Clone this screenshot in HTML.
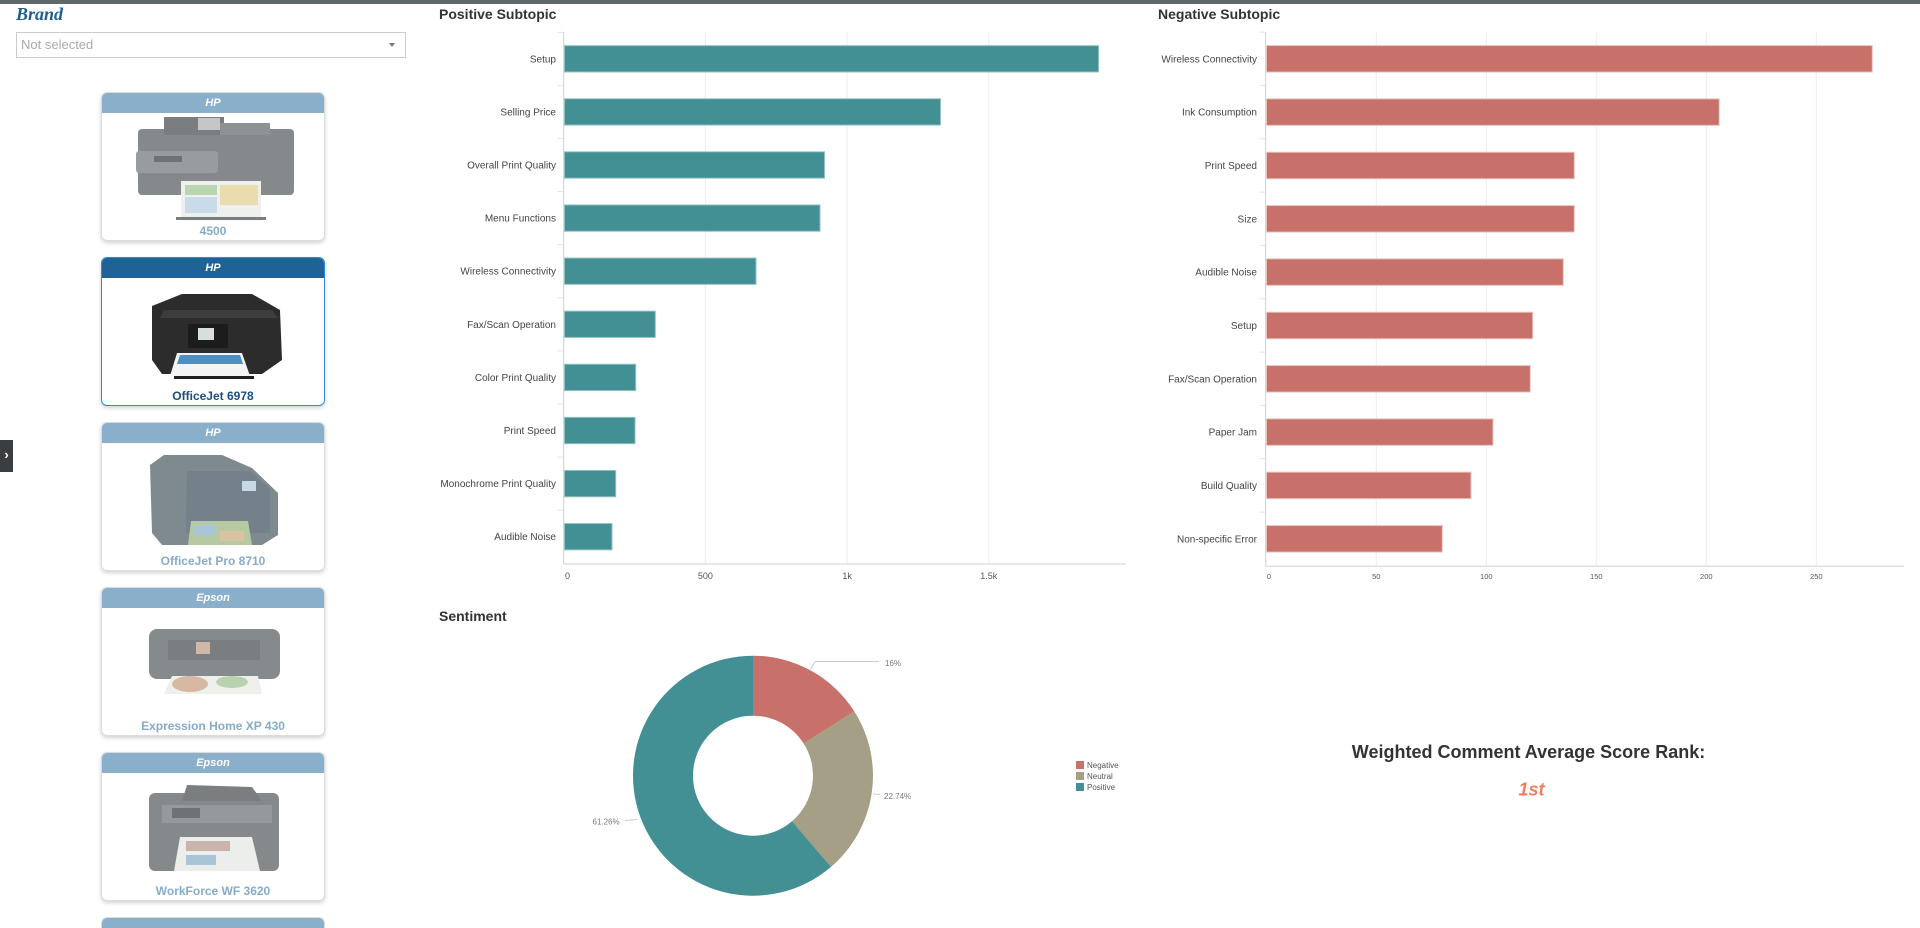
<!DOCTYPE html>
<html><head><meta charset="utf-8"><style>
html,body{margin:0;padding:0;background:#fff;width:1920px;height:928px;overflow:hidden;font-family:"Liberation Sans",Arial,sans-serif;}
#root{position:relative;width:1920px;height:928px;overflow:hidden;background:#fff;}
.abs{position:absolute;}
.card{position:absolute;left:101px;width:222px;height:147px;border:1px solid #dcdcdc;border-radius:6px;background:#fff;box-shadow:0 2px 4px rgba(0,0,0,0.18);overflow:hidden;}
.card .hd{position:absolute;left:0;top:0;right:0;height:20px;background:#8aafcb;color:#fff;font-weight:bold;font-style:italic;font-size:11px;text-align:center;line-height:20px;}
.card .nm{position:absolute;left:0;right:0;top:131px;text-align:center;font-weight:bold;font-size:12px;color:#86abc9;line-height:14px;}
.card svg{position:absolute;left:0;top:0;}
.sel{border:1.5px solid #2f8be0;}
.sel .hd{background:#1f6298;}
.sel .nm{color:#1b4e7e;}
.last{height:10px;border-bottom:none;border-radius:6px 6px 0 0;box-shadow:none;}
.last .hd{height:10px;}
</style></head><body>
<div id="root">
<div class="abs" style="left:0;top:0;width:1920px;height:4px;background:#5e6868;"></div>
<div class="abs" style="left:16px;top:4px;font-family:'Liberation Serif',serif;font-weight:bold;font-style:italic;font-size:18px;line-height:20px;color:#1e5d94;">Brand</div>
<div class="abs" style="left:16px;top:32px;width:388px;height:24px;border:1px solid #cccccc;background:#fff;"></div>
<div class="abs" style="left:21px;top:37px;font-size:13px;line-height:15px;color:#aaaaaa;">Not selected</div>
<div class="abs" style="left:389px;top:43px;width:0;height:0;border-left:3.5px solid transparent;border-right:3.5px solid transparent;border-top:4px solid #777;"></div>
<div class="abs" style="left:0;top:440px;width:13px;height:32px;background:#3b3e40;color:#fff;font-weight:bold;font-size:13px;line-height:30px;text-align:center;">&#8250;</div>

<div class="card" style="top:92px;">
<svg width="224" height="149">
<rect x="36" y="36" width="156" height="66" rx="4" fill="#86898b"/>
<rect x="62" y="24" width="60" height="18" fill="#7b7e80"/>
<rect x="96" y="25" width="22" height="12" fill="#c4c6c7"/>
<rect x="118" y="30" width="50" height="12" fill="#8f9294"/>
<rect x="34" y="58" width="82" height="22" rx="3" fill="#999c9e"/>
<rect x="52" y="63" width="28" height="6" fill="#6f7274"/>
<rect x="79" y="88" width="80" height="38" fill="#eef0ee"/>
<rect x="83" y="92" width="32" height="10" fill="#b9d6b0"/>
<rect x="118" y="92" width="38" height="20" fill="#e9ddb0"/>
<rect x="83" y="104" width="32" height="16" fill="#c9dbe8"/>
<rect x="74" y="124" width="90" height="3" fill="#7a7d7f"/>
</svg>
<div class="hd">HP</div><div class="nm">4500</div></div>

<div class="card sel" style="top:257px;">
<svg width="224" height="149">
<path d="M50 48 L80 36 L150 36 L178 52 L180 102 L160 116 L60 116 L50 102 Z" fill="#2c2c2c"/>
<path d="M62 52 L170 52 L176 60 L58 60 Z" fill="#3d3d3d"/>
<rect x="86" y="66" width="40" height="24" fill="#1c1c1c"/>
<rect x="96" y="70" width="16" height="12" fill="#d8dde0"/>
<path d="M75 95 L140 95 L148 118 L68 118 Z" fill="#f2f4f5"/>
<path d="M78 97 L138 97 L141 106 L75 106 Z" fill="#4d8fc0"/>
<rect x="72" y="118" width="80" height="3" fill="#1f1f1f"/>
</svg>
<div class="hd">HP</div><div class="nm">OfficeJet 6978</div></div>

<div class="card" style="top:422px;">
<svg width="224" height="149">
<path d="M48 42 L62 32 L120 32 L150 45 L176 70 L176 112 L160 122 L60 122 L50 110 Z" fill="#7e8a8e"/>
<path d="M85 48 L148 48 L168 66 L168 110 L84 110 Z" fill="#74808a"/>
<rect x="140" y="58" width="14" height="10" fill="#c8d8e4"/>
<path d="M89 98 L146 98 L150 122 L86 122 Z" fill="#b7c9a2"/>
<rect x="92" y="102" width="22" height="10" fill="#a9c6d8"/>
<rect x="118" y="108" width="24" height="10" fill="#d8c2a0"/>
</svg>
<div class="hd">HP</div><div class="nm">OfficeJet Pro 8710</div></div>

<div class="card" style="top:587px;">
<svg width="224" height="149">
<rect x="47" y="41" width="131" height="50" rx="8" fill="#858a8c"/>
<rect x="66" y="52" width="92" height="20" fill="#7a7e80"/>
<rect x="94" y="54" width="14" height="12" fill="#d0b8a8"/>
<path d="M70 88 L156 88 L160 106 L62 106 Z" fill="#eef0ec"/>
<ellipse cx="88" cy="96" rx="18" ry="8" fill="#d7b8a2"/>
<ellipse cx="130" cy="94" rx="16" ry="6" fill="#b9d2ad"/>
</svg>
<div class="hd">Epson</div><div class="nm">Expression Home XP 430</div></div>

<div class="card" style="top:752px;">
<svg width="224" height="149">
<rect x="47" y="40" width="130" height="78" rx="6" fill="#85898b"/>
<path d="M85 32 L150 34 L160 48 L80 48 Z" fill="#7a7e80"/>
<rect x="60" y="52" width="110" height="18" fill="#95999b"/>
<rect x="70" y="55" width="28" height="10" fill="#6f7274"/>
<path d="M78 84 L150 84 L158 118 L72 118 Z" fill="#eceeec"/>
<rect x="84" y="88" width="44" height="10" fill="#c9b3ab"/>
<rect x="84" y="102" width="30" height="10" fill="#a9c4d6"/>
</svg>
<div class="hd">Epson</div><div class="nm">WorkForce WF 3620</div></div>

<div class="card last" style="top:917px;"><div class="hd"></div></div>

<svg class="abs" style="left:0;top:0;" width="1920" height="928" xmlns="http://www.w3.org/2000/svg" font-family="Liberation Sans, Arial, sans-serif">
<!-- Positive Subtopic -->
<text x="439" y="19" font-size="14" font-weight="bold" fill="#333">Positive Subtopic</text>
<g stroke="#ececec" stroke-width="1">
<line x1="705.4" y1="32" x2="705.4" y2="564"/>
<line x1="847.1" y1="32" x2="847.1" y2="564"/>
<line x1="988.8" y1="32" x2="988.8" y2="564"/>
</g>
<g stroke="#e4e4e4" stroke-width="1">
<line x1="557.5" y1="32.3" x2="563.5" y2="32.3"/><line x1="557.5" y1="85.4" x2="563.5" y2="85.4"/>
<line x1="557.5" y1="138.5" x2="563.5" y2="138.5"/><line x1="557.5" y1="191.6" x2="563.5" y2="191.6"/>
<line x1="557.5" y1="244.7" x2="563.5" y2="244.7"/><line x1="557.5" y1="297.8" x2="563.5" y2="297.8"/>
<line x1="557.5" y1="350.9" x2="563.5" y2="350.9"/><line x1="557.5" y1="404" x2="563.5" y2="404"/>
<line x1="557.5" y1="457.1" x2="563.5" y2="457.1"/><line x1="557.5" y1="510.2" x2="563.5" y2="510.2"/>
</g>
<line x1="563.7" y1="32" x2="563.7" y2="564.5" stroke="#cfcfcf"/>
<line x1="563.5" y1="564" x2="1125.7" y2="564" stroke="#d0d0d0"/>
<g fill="#428f94" stroke="#93c1c3" stroke-width="1">
<rect x="564.5" y="45.65" width="534" height="26.3"/>
<rect x="564.5" y="98.75" width="376" height="26.3"/>
<rect x="564.5" y="151.85" width="260" height="26.3"/>
<rect x="564.5" y="204.95" width="255.5" height="26.3"/>
<rect x="564.5" y="258.05" width="191.5" height="26.3"/>
<rect x="564.5" y="311.15" width="90.8" height="26.3"/>
<rect x="564.5" y="364.25" width="71.2" height="26.3"/>
<rect x="564.5" y="417.35" width="70.5" height="26.3"/>
<rect x="564.5" y="470.45" width="51.2" height="26.3"/>
<rect x="564.5" y="523.55" width="47.5" height="26.3"/>
</g>
<g font-size="10" fill="#444" text-anchor="end">
<text x="556" y="62.3">Setup</text>
<text x="556" y="115.4">Selling Price</text>
<text x="556" y="168.5">Overall Print Quality</text>
<text x="556" y="221.6">Menu Functions</text>
<text x="556" y="274.7">Wireless Connectivity</text>
<text x="556" y="327.8">Fax/Scan Operation</text>
<text x="556" y="380.9">Color Print Quality</text>
<text x="556" y="434">Print Speed</text>
<text x="556" y="487.1">Monochrome Print Quality</text>
<text x="556" y="540.2">Audible Noise</text>
</g>
<g font-size="9" fill="#555" text-anchor="middle">
<text x="567.5" y="579.2">0</text>
<text x="705.4" y="579.2">500</text>
<text x="847.1" y="579.2">1k</text>
<text x="988.8" y="579.2">1.5k</text>
</g>

<!-- Negative Subtopic -->
<text x="1158" y="19" font-size="14" font-weight="bold" fill="#333">Negative Subtopic</text>
<g stroke="#ececec" stroke-width="1">
<line x1="1376.3" y1="32" x2="1376.3" y2="566"/>
<line x1="1486.3" y1="32" x2="1486.3" y2="566"/>
<line x1="1596.3" y1="32" x2="1596.3" y2="566"/>
<line x1="1706.3" y1="32" x2="1706.3" y2="566"/>
<line x1="1816.3" y1="32" x2="1816.3" y2="566"/>
</g>
<g stroke="#e4e4e4" stroke-width="1">
<line x1="1259.5" y1="32.1" x2="1265.5" y2="32.1"/><line x1="1259.5" y1="85.4" x2="1265.5" y2="85.4"/>
<line x1="1259.5" y1="138.8" x2="1265.5" y2="138.8"/><line x1="1259.5" y1="192.1" x2="1265.5" y2="192.1"/>
<line x1="1259.5" y1="245.4" x2="1265.5" y2="245.4"/><line x1="1259.5" y1="298.8" x2="1265.5" y2="298.8"/>
<line x1="1259.5" y1="352.1" x2="1265.5" y2="352.1"/><line x1="1259.5" y1="405.4" x2="1265.5" y2="405.4"/>
<line x1="1259.5" y1="458.7" x2="1265.5" y2="458.7"/><line x1="1259.5" y1="512.1" x2="1265.5" y2="512.1"/>
</g>
<line x1="1265.7" y1="32" x2="1265.7" y2="566.5" stroke="#cfcfcf"/>
<line x1="1265.5" y1="566.3" x2="1903.7" y2="566.3" stroke="#d0d0d0"/>
<g fill="#c8716a" stroke="#ecc3c0" stroke-width="1">
<rect x="1266.5" y="45.55" width="605.8" height="26.5"/>
<rect x="1266.5" y="98.85" width="452.7" height="26.5"/>
<rect x="1266.5" y="152.25" width="307.8" height="26.5"/>
<rect x="1266.5" y="205.55" width="307.8" height="26.5"/>
<rect x="1266.5" y="258.85" width="296.8" height="26.5"/>
<rect x="1266.5" y="312.25" width="266.2" height="26.5"/>
<rect x="1266.5" y="365.55" width="263.8" height="26.5"/>
<rect x="1266.5" y="418.85" width="226.5" height="26.5"/>
<rect x="1266.5" y="472.15" width="204.5" height="26.5"/>
<rect x="1266.5" y="525.55" width="175.8" height="26.5"/>
</g>
<g font-size="10" fill="#444" text-anchor="end">
<text x="1257" y="62.3">Wireless Connectivity</text>
<text x="1257" y="115.6">Ink Consumption</text>
<text x="1257" y="169">Print Speed</text>
<text x="1257" y="222.3">Size</text>
<text x="1257" y="275.6">Audible Noise</text>
<text x="1257" y="329">Setup</text>
<text x="1257" y="382.3">Fax/Scan Operation</text>
<text x="1257" y="435.6">Paper Jam</text>
<text x="1257" y="488.9">Build Quality</text>
<text x="1257" y="542.3">Non-specific Error</text>
</g>
<g font-size="7.5" fill="#555" text-anchor="middle">
<text x="1269" y="578.8">0</text>
<text x="1376.3" y="578.8">50</text>
<text x="1486.3" y="578.8">100</text>
<text x="1596.3" y="578.8">150</text>
<text x="1706.3" y="578.8">200</text>
<text x="1816.3" y="578.8">250</text>
</g>

<!-- Sentiment -->
<text x="439" y="621" font-size="14" font-weight="bold" fill="#333">Sentiment</text>
<path d="M753,655.7 A120,120 0 0 1 854.3,711.4 L803.66,743.55 A60,60 0 0 0 753,715.7 Z" fill="#c8716a"/>
<path d="M854.3,711.4 A120,120 0 0 1 830.99,866.9 L791.99,821.3 A60,60 0 0 0 803.66,743.55 Z" fill="#a59f86"/>
<path d="M830.99,866.9 A120,120 0 1 1 753,655.7 L753,715.7 A60,60 0 1 0 791.99,821.3 Z" fill="#428f94"/>
<g stroke="#cccccc" fill="none" stroke-width="1">
<polyline points="810.5,669 815.3,661.5 879,661.5"/>
<polyline points="873,794 880,794.5"/>
<polyline points="625,820.5 637,819.5"/>
</g>
<g font-size="8" fill="#777">
<text x="885" y="666">16%</text>
<text x="884" y="799">22.74%</text>
<text x="592.5" y="824.3">61.26%</text>
</g>
<rect x="1076" y="761" width="8" height="8" fill="#c8716a"/>
<rect x="1076" y="772" width="8" height="8" fill="#a59f86"/>
<rect x="1076" y="783" width="8" height="8" fill="#428f94"/>
<g font-size="8" fill="#555">
<text x="1087" y="768">Negative</text>
<text x="1087" y="779">Neutral</text>
<text x="1087" y="790">Positive</text>
</g>

<!-- Rank -->
<text x="1528.5" y="758" font-size="18" font-weight="bold" fill="#333" text-anchor="middle">Weighted Comment Average Score Rank:</text>
<text x="1531.5" y="795.5" font-size="18" font-weight="bold" font-style="italic" fill="#f47c5e" text-anchor="middle">1st</text>
</svg>
</div>
</body></html>
